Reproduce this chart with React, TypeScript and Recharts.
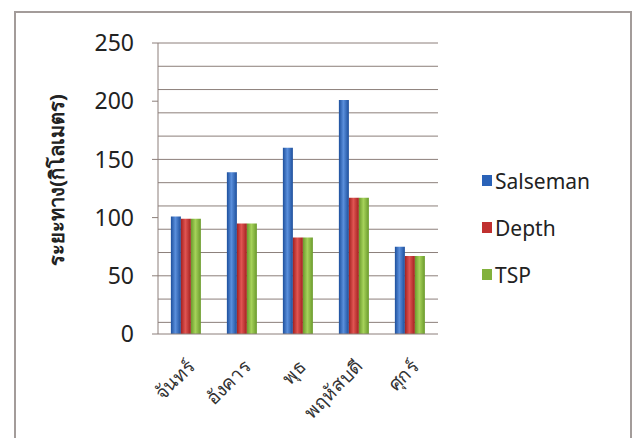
import React from "react";
import {
  BarChart,
  Bar,
  XAxis,
  YAxis,
  CartesianGrid,
  Legend,
} from "recharts";

const days = ["จันทร์", "อังคาร", "พุธ", "พฤหัสบดี", "ศุกร์"];
const salseman = [101, 139, 160, 201, 75];
const depth = [99, 95, 83, 117, 67];
const tsp = [99, 95, 83, 117, 67];
const yTicks = [0, 50, 100, 150, 200, 250];
const gridLines = [
  0, 10, 20, 30, 40, 50, 60, 70, 80, 90, 100, 110, 120, 130, 140, 150, 160,
  170, 180, 190, 200, 210, 220, 230, 240, 250,
];

const data = days.map((day, i) => ({
  day,
  Salseman: salseman[i],
  Depth: depth[i],
  TSP: tsp[i],
}));

const font = "'Noto Sans', 'Open Sans', sans-serif";
const gridColor = "#8c7f7a";

const series = [
  { key: "Salseman", grad: "gBlue", edge: "#1d4f9c", mid: "#5a8fdc", swatch: "#2a62b8" },
  { key: "Depth", grad: "gRed", edge: "#a3201f", mid: "#e05552", swatch: "#c0302f" },
  { key: "TSP", grad: "gGreen", edge: "#6a9a2c", mid: "#a6d25a", swatch: "#82b13c" },
];

const DayTick = ({ x, y, payload }: any) => (
  <text
    x={x + 5}
    y={y + 21}
    transform={`rotate(-45, ${x + 5}, ${y + 21})`}
    textAnchor="end"
    dominantBaseline="central"
    fontFamily={font}
    fontSize={19}
    fill="#333"
  >
    {payload.value}
  </text>
);

const LegendBox = ({ payload }: any) => {
  const items = [...(payload || [])].sort(
    (a: any, b: any) =>
      series.findIndex((s) => s.key === a.value) -
      series.findIndex((s) => s.key === b.value)
  );
  return (
    <div style={{ fontFamily: font }}>
      {items.map((p: any, i: number) => {
        const s = series.find((d) => d.key === p.value);
        return (
          <div
            key={i}
            style={{ display: "flex", alignItems: "center", height: 47 }}
          >
            <span
              style={{
                display: "inline-block",
                width: 10,
                height: 11,
                background: s ? s.swatch : p.color,
                marginRight: 3,
              }}
            />
            <span style={{ fontSize: 21, color: "#222" }}>{p.value}</span>
          </div>
        );
      })}
    </div>
  );
};

const YTitle = () => {
  const cx = 56;
  const cy = 180;
  return (
    <text
      x={cx}
      y={cy}
      transform={`rotate(-90, ${cx}, ${cy})`}
      textAnchor="middle"
      dominantBaseline="central"
      fontFamily={font}
      fontSize={20}
      fontWeight="bold"
      fill="#222"
    >
      ระยะทาง(กิโลเมตร)
    </text>
  );
};

export default function App() {
  return (
    <div
      style={{
        position: "absolute",
        left: 0,
        top: 0,
        width: 634,
        height: 438,
        background: "#fff",
        overflow: "hidden",
      }}
    >
      <div
        style={{
          position: "absolute",
          left: 14,
          top: 11,
          width: 618,
          height: 440,
          border: "2px solid #a39c9a",
          boxSizing: "border-box",
        }}
      />
      <BarChart
        width={634}
        height={438}
        data={data}
        margin={{ top: 43, right: 46, bottom: 0, left: 0 }}
        barGap={0}
        barCategoryGap="23%"
        style={{ position: "absolute", left: 0, top: 0 }}
      >
        <defs>
          {series.map((s) => (
            <linearGradient key={s.grad} id={s.grad} x1="0" y1="0" x2="1" y2="0">
              <stop offset="0%" stopColor={s.edge} />
              <stop offset="45%" stopColor={s.mid} />
              <stop offset="100%" stopColor={s.edge} />
            </linearGradient>
          ))}
        </defs>
        <CartesianGrid
          vertical={false}
          horizontal={{ shapeRendering: "crispEdges" } as any}
          horizontalValues={gridLines}
          stroke={gridColor}
          strokeWidth={1}
        />
        <XAxis
          dataKey="day"
          height={104}
          tick={<DayTick />}
          tickLine={false}
          axisLine={{ stroke: gridColor }}
          interval={0}
        />
        <YAxis
          width={158}
          domain={[0, 250]}
          ticks={yTicks}
          tickSize={6}
          tickMargin={18}
          tickLine={{ stroke: gridColor }}
          axisLine={{ stroke: gridColor }}
          tick={{ fontFamily: font, fontSize: 23, fill: "#222" }}
          label={<YTitle />}
        />
        <Legend
          layout="vertical"
          align="right"
          verticalAlign="middle"
          width={150}
          content={<LegendBox />}
          wrapperStyle={{ left: 482, top: 157, width: 150 }}
        />
        {series.map((s) => (
          <Bar
            key={s.key}
            dataKey={s.key}
            fill={`url(#${s.grad})`}
            isAnimationActive={false}
          />
        ))}
      </BarChart>
    </div>
  );
}
